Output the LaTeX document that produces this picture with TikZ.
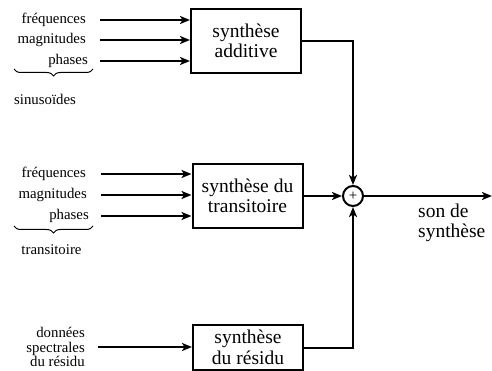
\documentclass[tikz,border=0pt]{standalone}
\usepackage{fontspec}
\setmainfont{Liberation Serif}
\usetikzlibrary{arrows.meta,decorations.pathreplacing}

\begin{document}
\begin{tikzpicture}[x=1pt, y=1pt,
    bloc/.style={draw, line width=2pt, minimum width=110pt, align=center,
      font=\fontsize{19.5}{20.5}\selectfont},
    lbl/.style={inner sep=0pt, font=\fontsize{14.8}{14.5}\selectfont},
    fl/.style={line width=2pt, -{Stealth[length=10pt,width=8pt,inset=2.5pt]}},
    accolade/.style={line width=1pt, decorate, decoration={brace,mirror,amplitude=7pt}}]
    \useasboundingbox (0,0) rectangle (492,-371);

    % blocs de synthese
    \node[bloc, minimum height=64pt] (additive) at (246,-41) {synthèse\\additive};
    \node[bloc, minimum height=64pt] (transit) at (247.5,-196) {synthèse du\\transitoire};
    \node[bloc, minimum height=45pt] (residu) at (248,-347.5) {synthèse\\du résidu};
    \node[draw, circle, line width=2pt, minimum size=20pt, inner sep=0pt] (somme) at (353,-196) {};
    \node[inner sep=0pt, font=\fontsize{15}{15}\selectfont] (plus) at (somme) {+};

    % sinusoides
    \node[lbl, anchor=east] (freqA) at (86,-20) {fréquences};
    \node[lbl, anchor=east] (magA) at (86,-40) {magnitudes};
    \node[lbl, anchor=east] (phaA) at (88,-61) {phases};
    \draw[fl] ([xshift=14pt]freqA.east) -- (freqA -| additive.west);
    \draw[fl] ([xshift=14pt]magA.east) -- (magA -| additive.west);
    \draw[fl] ([xshift=12pt]phaA.east) -- (phaA -| additive.west);
    \draw[accolade] (14,-69) -- (93,-69);
    \node[lbl, anchor=west] (sinus) at (14,-99) {sinusoïdes};

    % transitoire
    \node[lbl, anchor=east] (freqB) at (86,-174) {fréquences};
    \node[lbl, anchor=east] (magB) at (87,-195) {magnitudes};
    \node[lbl, anchor=east] (phaB) at (89,-216) {phases};
    \draw[fl] ([xshift=15pt]freqB.east) -- (freqB -| transit.west);
    \draw[fl] ([xshift=14pt]magB.east) -- (magB -| transit.west);
    \draw[fl] ([xshift=12pt]phaB.east) -- (phaB -| transit.west);
    \draw[accolade] (14,-226) -- (93,-226);
    \node[lbl] (trans) at (51.5,-250) {transitoire};

    % residu
    \node[lbl, anchor=east, align=right] (donnees) at (85,-347) {données\\spectrales\\du résidu};
    \draw[fl] ([xshift=13pt]donnees.east) -- (donnees -| residu.west);

    % somme et sortie
    \draw[fl] (additive.east) -| (somme.north);
    \draw[fl] (transit.east) -- (somme.west);
    \draw[fl] (residu.east) -| (somme.south);
    \coordinate (sortie) at (492,-196);
    \draw[fl] (somme.east) -- (sortie);
    \node[anchor=west, align=left, inner sep=0pt, font=\fontsize{19.5}{20.5}\selectfont] (son) at (418,-223) {son de\\synthèse};
\end{tikzpicture}
\end{document}
